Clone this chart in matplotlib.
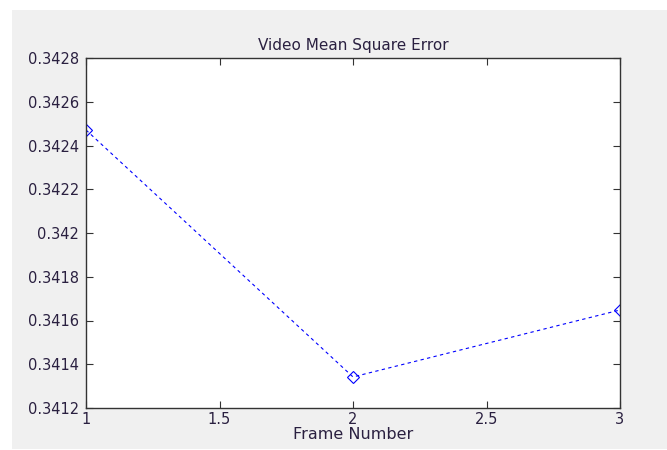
import matplotlib.pyplot as plt
from matplotlib.patches import Rectangle
from matplotlib.ticker import FuncFormatter

frames = [1, 2, 3]
mse = [0.342471, 0.341342, 0.341648]

plt.rcParams['font.family'] = ['DejaVu Sans']
plt.rcParams['font.size'] = 10.5

fig = plt.figure(figsize=(6.67, 4.5), dpi=100, facecolor='white')
fig.patches.append(Rectangle((12 / 667, 1 / 450), 1, 1 - 11 / 450, transform=fig.transFigure,
                             facecolor='#f0f0f0', edgecolor='none', zorder=-10))

ax = fig.add_axes([86 / 667, 1 - 408 / 450, 534 / 667, 350 / 450])
ax.plot(frames, mse, color='blue', linestyle=(0, (3, 3)), linewidth=0.8,
        marker='D', markersize=6.5, markerfacecolor='none', markeredgecolor='blue',
        markeredgewidth=0.8)

ax.set_xlim(1, 3)
ax.set_ylim(0.3412, 0.3428)
ax.set_xticks([1, 1.5, 2, 2.5, 3])
ax.set_yticks([0.3412, 0.3414, 0.3416, 0.3418, 0.3420, 0.3422, 0.3424, 0.3426, 0.3428])
ax.xaxis.set_major_formatter(FuncFormatter(lambda v, p: f"{v:g}"))
ax.yaxis.set_major_formatter(FuncFormatter(lambda v, p: f"{round(v, 4):g}"))
ax.tick_params(direction='in', top=True, right=True, length=5, width=0.8, colors='#333333',
               labelcolor='#2a2040')
ax.tick_params(axis='y', pad=5)
ax.tick_params(axis='x', pad=3)
for s in ax.spines.values():
    s.set_color('#333333')
    s.set_linewidth(1.0)

ax.set_title('Video Mean Square Error', fontsize=11, color='#2a2040', pad=6)
ax.set_xlabel('Frame Number', fontsize=11.5, color='#2a2040', labelpad=0)

fig.savefig('out.png', dpi=100, facecolor=fig.get_facecolor())
